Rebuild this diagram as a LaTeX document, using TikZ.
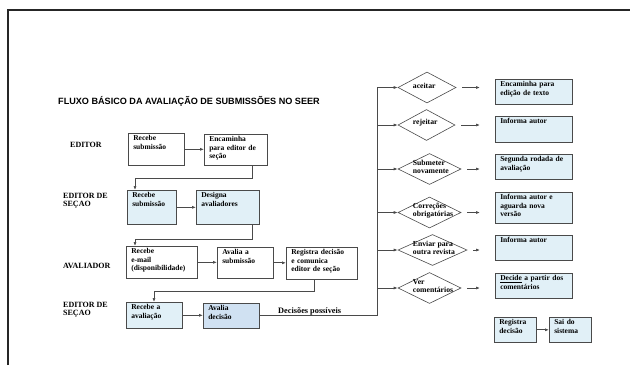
\documentclass[tikz,border=0pt]{standalone}
\usepackage{fontspec}
\setmainfont{Liberation Serif}
\newfontfamily\titlefont{Liberation Sans}
\usepackage{xcolor}
\definecolor{borda}{HTML}{4A4A4A}
\definecolor{azulclaro}{HTML}{E1F0F7}
\definecolor{azulmedio}{HTML}{D0E1F2}
\usepackage{tikz}
\usetikzlibrary{arrows.meta,shapes.geometric}

\tikzset{
  caixa/.style 2 args={draw=borda, line width=0.6pt, anchor=north west, align=left,
    font=\bfseries\fontsize{7.5}{8.3}\selectfont, inner xsep=5pt, inner ysep=2.5pt,
    text width=#1, text height=5pt, text depth=#2},
  azul/.style={fill=azulclaro},
  losango/.style={diamond, draw=borda, line width=0.6pt, minimum width=#1,
    minimum height=31pt, inner sep=0pt},
  dtexto/.style={anchor=west, xshift=15pt, yshift=2pt, align=left, inner sep=0pt,
    font=\bfseries\fontsize{7.7}{8.3}\selectfont},
  rotulo/.style={anchor=west, align=left, inner sep=0pt,
    font=\bfseries\fontsize{8}{8.2}\selectfont},
  seta/.style={->, draw=borda, line width=0.7pt},
}

\begin{document}
\begin{tikzpicture}[x=1pt, y=-1pt, >={Latex[length=4pt,width=3pt]}]
  \useasboundingbox (0,0) rectangle (630,365);
  % moldura
  \draw[line width=1.4pt, black!85] (8,365) -- (8,10) -- (630,10);

  \node[anchor=base west, inner sep=0pt, font=\titlefont\bfseries\fontsize{9.1}{10}\selectfont]
    (titulo) at (58,104) {FLUXO BÁSICO DA AVALIAÇÃO DE SUBMISSÕES NO SEER};

  % papeis
  \node[rotulo] (editor) at (70,145) {EDITOR};
  \node[rotulo] (secao1) at (63,201) {EDITOR DE\\SEÇAO};
  \node[rotulo] (avaliador) at (63,266) {AVALIADOR};
  \node[rotulo] (secao2) at (63,310) {EDITOR DE\\SEÇAO};

  % editor
  \node[caixa={46pt}{22pt}] (rs1) at (128,133) {Recebe\\submissão};
  \node[caixa={53pt}{21pt}] (enc1) at (204,134) {Encaminha\\para editor de\\seção};
  % editor de secao
  \node[caixa={39pt}{24pt}, azul] (rs2) at (127,190) {Recebe\\submissão};
  \node[caixa={53pt}{24pt}, azul] (des2) at (196,190) {Designa\\avaliadores};
  % avaliador
  \node[caixa={61pt}{22pt}] (rem3) at (126,246) {Recebe\\e-mail\\(disponibilidade)};
  \node[caixa={46pt}{21pt}] (ava3) at (217,247) {Avalia a\\submissão};
  \node[caixa={61pt}{22pt}] (reg3) at (286,247) {Registra decisão\\e comunica\\editor de seção};
  % editor de secao
  \node[caixa={46pt}{16pt}, azul] (rav4) at (126,302) {Recebe a\\avaliação};
  \node[caixa={46pt}{15pt}, fill=azulmedio] (avd4) at (203,303) {Avalia\\decisão};

  \draw[seta] (rs1.east) -- (rs1.east -| enc1.west);
  \draw[seta] (rs2.east) -- (rs2.east -| des2.west);
  \draw[seta] (rem3.east) -- (rem3.east -| ava3.west);
  \draw[seta] (ava3.east) -- (ava3.east -| reg3.west);
  \draw[seta] (rav4.east) -- (rav4.east -| avd4.west);

  \draw[seta] (enc1.south -| 252,0) -- ++(0,13) -| ([xshift=8pt]rs2.north west);
  \draw[seta] (des2.south -| 252,0) -- ++(0,15) -| ([xshift=9pt]rem3.north west);
  \draw[seta] (reg3.south -| 314,0) -- ++(0,12) -| ([xshift=28pt]rav4.north west);

  % decisoes
  \node[losango=58pt, label={[dtexto]west:aceitar}] (d1) at (427,87.5) {};
  \node[losango=57pt, label={[dtexto]west:rejeitar}] (d2) at (426.5,125) {};
  \node[losango=63pt, label={[dtexto]west:Submeter\\novamente}] (d3) at (429.5,169) {};
  \node[losango=63pt, label={[dtexto]west:Correções\\obrigatórias}] (d4) at (429.5,212.5) {};
  \node[losango=69pt, label={[dtexto]west:Enviar para\\outra revista}] (d5) at (432.5,250) {};
  \node[losango=63pt, label={[dtexto]west:Ver\\comentários}] (d6) at (429.5,288) {};

  \coordinate (tronco) at (377,315);
  \draw[draw=borda, line width=0.7pt] (avd4.east |- tronco) -- (tronco) -- (tronco |- d1.west);
  \node[anchor=base west, inner sep=0pt, font=\bfseries\fontsize{8.3}{9}\selectfont]
    (possiveis) at (278,313) {Decisões possíveis};
  \foreach \d in {d1,d2,d3,d4,d5,d6}
    \draw[seta] (tronco |- \d.west) -- (\d.west);

  % resultados
  \node[caixa={67pt}{15pt}, azul] (r1) at (495,79) {Encaminha para\\edição de texto};
  \node[caixa={67pt}{16pt}, azul] (r2) at (495,116) {Informa autor};
  \node[caixa={67pt}{15pt}, azul] (r3) at (495,154) {Segunda rodada de\\avaliação};
  \node[caixa={67pt}{21pt}, azul] (r4) at (495,192) {Informa autor e\\aguarda nova\\versão};
  \node[caixa={67pt}{15pt}, azul] (r5) at (495,235) {Informa autor};
  \node[caixa={67pt}{15pt}, azul] (r6) at (495,273) {\underline{Decide} a partir dos\\comentários};
  \foreach \i in {1,...,6}
    \draw[seta, shorten <=6pt, shorten >=15pt] (d\i.east) -- (d\i.east -| r\i.west);

  \node[caixa={32pt}{15pt}, azul] (regd) at (494,317) {Registra\\decisão};
  \node[caixa={32pt}{15pt}, azul] (sai) at (549,317) {Sai do\\sistema};
  \draw[seta] (regd.east) -- (sai.west);
\end{tikzpicture}
\end{document}
